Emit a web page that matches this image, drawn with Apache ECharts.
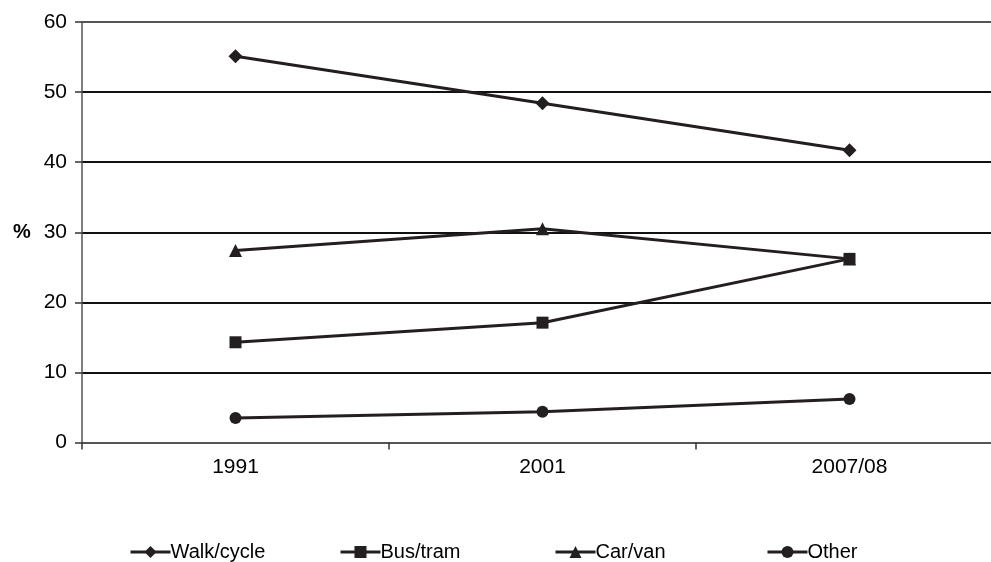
<!DOCTYPE html>
<html>
<head>
<meta charset="utf-8">
<script src="https://cdn.jsdelivr.net/npm/echarts@6/dist/echarts.min.js"></script>
<style>
  html, body { margin: 0; padding: 0; background: #fff; overflow: hidden; }
  #chart { width: 991px; height: 562px; }
</style>
</head>
<body>
<div id="chart"></div>
<script>
// Share of trips by mode, per survey year
var years = ['1991', '2001', '2007/08'];
var walkCycle = [55.1, 48.4, 41.7];
var busTram = [14.3, 17.1, 26.2];
var carVan = [27.4, 30.5, 26.2];
var other = [3.5, 4.4, 6.2];
var yTicks = [0, 10, 20, 30, 40, 50, 60];

var ink = '#231f20';
var font = 'Liberation Sans, Arial, sans-serif';

function lineSeries(name, data, symbol, size) {
  return {
    name: name,
    type: 'line',
    data: data,
    symbol: symbol,
    symbolSize: size,
    showAllSymbol: true,
    lineStyle: { color: ink, width: 3 },
    itemStyle: { color: ink, borderWidth: 0 },
    emphasis: { disabled: true },
    animation: false
  };
}

function legendAt(name, x) {
  return {
    data: [name],
    left: x,
    top: 537,
    itemWidth: 40,
    itemHeight: 15,
    itemGap: 0,
    lineStyle: { width: 3, color: ink },
    itemStyle: { color: ink },
    textStyle: { fontFamily: font, fontSize: 20, color: '#000', padding: [0, 0, 0, -5] },
    selectedMode: false
  };
}

var chart = echarts.init(document.getElementById('chart'));
chart.setOption({
  backgroundColor: '#fff',
  animation: false,
  // plot area runs past the right edge of the canvas
  grid: {
    left: 82, width: 921, top: 22, height: 420.5,
    outerBoundsMode: 'none', containLabel: false
  },
  legend: [
    legendAt('Walk/cycle', 124),
    legendAt('Bus/tram', 334),
    legendAt('Car/van', 549),
    legendAt('Other', 761)
  ],
  xAxis: {
    type: 'category',
    data: years,
    boundaryGap: true,
    axisLine: { lineStyle: { color: '#555', width: 1.5 } },
    axisTick: { show: true, length: 7, lineStyle: { color: '#333', width: 1.5 } },
    axisLabel: { fontFamily: font, fontSize: 21, color: '#000', margin: 14 }
  },
  yAxis: {
    type: 'value',
    min: yTicks[0],
    max: yTicks[yTicks.length - 1],
    interval: 10,
    axisLine: { show: true, lineStyle: { color: '#555', width: 1.5 } },
    axisTick: { show: true, length: 7, lineStyle: { color: '#333', width: 1.5 } },
    axisLabel: { fontFamily: font, fontSize: 21, color: '#000', margin: 15 },
    splitLine: {
      show: true,
      lineStyle: {
        color: ['#555', '#111', '#111', '#111', '#111', '#111', '#555'],
        width: 2
      }
    }
  },
  graphic: [{
    type: 'text',
    left: 13,
    top: 222,
    style: { text: '%', fontFamily: font, fontSize: 20, fontWeight: 'bold', fill: '#000' }
  }],
  series: [
    lineSeries('Walk/cycle', walkCycle, 'diamond', 14),
    lineSeries('Bus/tram', busTram, 'rect', 12),
    lineSeries('Car/van', carVan, 'triangle', 13),
    lineSeries('Other', other, 'circle', 12)
  ]
});
</script>
</body>
</html>
